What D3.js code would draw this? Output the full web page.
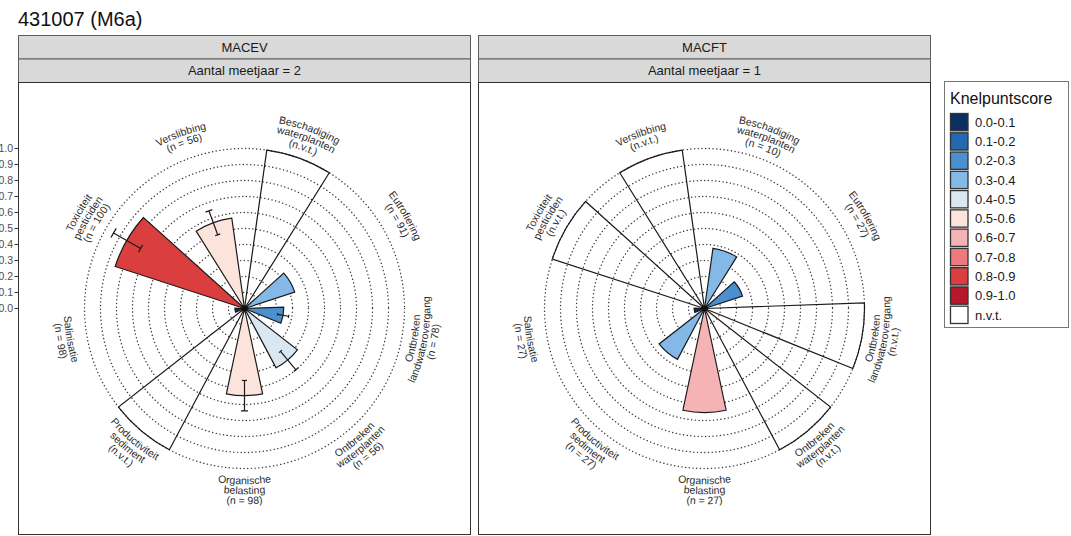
<!DOCTYPE html>
<html>
<head>
<meta charset="utf-8">
<script src="https://cdn.jsdelivr.net/npm/d3@7"></script>
<style>
  body { margin: 0; background: #fff; }
  svg { display: block; font-family: "Liberation Sans", Arial, Helvetica, sans-serif; }
</style>
</head>
<body>
<svg id="chart" width="1071" height="536"></svg>
<script>
// ---- data ----
const categories = [
  "Beschadiging waterplanten", "Eutrofiering", "Ontbreken landwaterovergang",
  "Ontbreken waterplanten", "Organische belasting", "Productiviteit sediment",
  "Salinisatie", "Toxiciteit pesticiden", "Verslibbing"
];
const categoryLines = [
  ["Beschadiging", "waterplanten"], ["Eutrofiering"], ["Ontbreken", "landwaterovergang"],
  ["Ontbreken", "waterplanten"], ["Organische", "belasting"], ["Productiviteit", "sediment"],
  ["Salinisatie"], ["Toxiciteit", "pesticiden"], ["Verslibbing"]
];
const facetNames = ["MACEV", "MACFT"];
const facetYears = [2, 1];

// knelpuntscore per category (null = n.v.t.)
const macevScore = [null, 0.33, 0.245, 0.42, 0.545, null, 0.06, 0.85, 0.57];
const macevLow   = [null, null, 0.21, 0.35, 0.45, null, null, 0.75, 0.49];
const macevHigh  = [null, null, 0.28, 0.50, 0.64, null, null, 0.945, 0.65];
const macevN     = [null, 91, 78, 56, 98, null, 98, 100, 56];

const macftScore = [0.38, 0.25, null, null, 0.65, 0.36, 0.065, null, null];
const macftLow   = [null, null, null, null, null, null, null, null, null];
const macftHigh  = [null, null, null, null, null, null, null, null, null];
const macftN     = [10, 27, null, null, 27, 27, 27, null, null];

const classBreaks = [0.1, 0.2, 0.3, 0.4, 0.5, 0.6, 0.7, 0.8, 0.9];
const classLabels = ["0.0-0.1", "0.1-0.2", "0.2-0.3", "0.3-0.4", "0.4-0.5",
                     "0.5-0.6", "0.6-0.7", "0.7-0.8", "0.8-0.9", "0.9-1.0", "n.v.t."];
const classColors = ["#0b2e63", "#2468b4", "#4a8fd0", "#84b8e6", "#dae6f0",
                     "#fce4dc", "#f5b3b5", "#ec7a7e", "#db3e3e", "#b8162b", "#ffffff"];
const radialTicks = [0, 0.1, 0.2, 0.3, 0.4, 0.5, 0.6, 0.7, 0.8, 0.9, 1.0];
const nvtValue = 1.0;   // n.v.t. bars span the whole scale

const facets = [
  { name: facetNames[0], years: facetYears[0], score: macevScore, low: macevLow, high: macevHigh, n: macevN },
  { name: facetNames[1], years: facetYears[1], score: macftScore, low: macftLow, high: macftHigh, n: macftN }
];

// ---- layout ----
const svg = d3.select("#chart");
const panelSize = 453;
const panelX = [18, 478];
const panelTop = 82;
const stripTop = 35, stripH = 23.5;
const rMax = 160;

const angle = d3.scaleBand().domain(categories).range([0, 2 * Math.PI])
  .paddingInner(0.4).paddingOuter(0.2);
const r = d3.scaleLinear().domain([0, 1]).range([0, rMax]);
const fill = d3.scaleThreshold().domain(classBreaks).range(classColors.slice(0, 10));

const textColor = "#2b2b2b";

// title
svg.append("text").attr("x", 18).attr("y", 26)
  .attr("font-size", 20).attr("fill", "#111").text("431007 (M6a)");

facets.forEach((f, fi) => {
  const x0 = panelX[fi];
  const cx = x0 + panelSize / 2, cy = panelTop + panelSize / 2;

  // strips
  const strips = [f.name, "Aantal meetjaar = " + f.years];
  strips.forEach((s, si) => {
    const y = stripTop + si * stripH;
    svg.append("rect").attr("x", x0 + 0.5).attr("y", y + 0.5)
      .attr("width", panelSize - 1).attr("height", stripH)
      .attr("fill", "#d9d9d9").attr("stroke", "#5e5e5e").attr("stroke-width", 1);
    svg.append("text").attr("x", cx).attr("y", y + stripH / 2 + 0.5)
      .attr("dy", "0.35em").attr("text-anchor", "middle")
      .attr("font-size", 13).attr("fill", "#1a1a1a").text(s);
  });

  const g = svg.append("g").attr("transform", `translate(${cx},${cy})`);

  // dotted reference circles
  g.selectAll("circle.grid").data(radialTicks.filter(t => t > 0)).join("circle")
    .attr("class", "grid").attr("r", d => r(d))
    .attr("fill", "none").attr("stroke", "#3a3a3a").attr("stroke-width", 1.4)
    .attr("stroke-dasharray", "0.1 3.6").attr("stroke-linecap", "round");

  // bars
  const rows = categories.map((c, i) => ({
    cat: c, i, score: f.score[i], low: f.low[i], high: f.high[i], n: f.n[i]
  }));
  const arc = d3.arc().innerRadius(0)
    .outerRadius(d => r(d.score == null ? nvtValue : d.score))
    .startAngle(d => angle(d.cat))
    .endAngle(d => angle(d.cat) + angle.bandwidth());
  g.selectAll("path.bar").data(rows).join("path")
    .attr("class", "bar").attr("d", arc)
    .attr("fill", d => d.score == null ? "none" : fill(d.score))
    .attr("stroke", "#1a1a1a").attr("stroke-width", 1.2).attr("stroke-linejoin", "miter");

  // hub where the bars meet
  g.append("circle").attr("r", 3).attr("fill", "#111");

  // error bars
  const capHalf = 2 * Math.PI / 180;
  const eb = rows.filter(d => d.low != null && d.high != null);
  g.selectAll("path.err").data(eb).join("path")
    .attr("class", "err")
    .attr("d", d => {
      const t = angle(d.cat) + angle.bandwidth() / 2;
      const p = d3.path();
      const a = t - Math.PI / 2;
      [d.low, d.high].forEach(v => {
        const rr = r(v);
        p.moveTo(rr * Math.cos(a - capHalf), rr * Math.sin(a - capHalf));
        p.arc(0, 0, rr, a - capHalf, a + capHalf);
      });
      p.moveTo(r(d.low) * Math.cos(a), r(d.low) * Math.sin(a));
      p.lineTo(r(d.high) * Math.cos(a), r(d.high) * Math.sin(a));
      return p.toString();
    })
    .attr("fill", "none").attr("stroke", "#1a1a1a").attr("stroke-width", 1.2);

  // curved category labels
  const R = 182, ls = 10, fs = 10.5, span = Math.PI / 3;
  rows.forEach(d => {
    const t = angle(d.cat) + angle.bandwidth() / 2;
    const upright = Math.cos(t) > 0;   // upper half reads clockwise
    const lines = categoryLines[d.i].concat(d.n == null ? "(n.v.t.)" : `(n = ${d.n})`);
    const m = lines.length;
    lines.forEach((txt, j) => {
      const rc = upright ? R + ((m - 1) / 2 - j) * ls : R + (j - (m - 1) / 2) * ls;
      const rb = upright ? rc - 0.35 * fs : rc + 0.35 * fs;
      const a0 = upright ? t - span : t + span;
      const a1 = upright ? t + span : t - span;
      const id = `lab-${fi}-${d.i}-${j}`;
      g.append("path").attr("id", id).attr("fill", "none")
        .attr("d", `M${rb * Math.sin(a0)},${-rb * Math.cos(a0)}A${rb},${rb} 0 0 ${upright ? 1 : 0} ${rb * Math.sin(a1)},${-rb * Math.cos(a1)}`);
      g.append("text").attr("font-size", fs).attr("fill", textColor)
        .append("textPath").attr("href", "#" + id)
        .attr("startOffset", "50%").attr("text-anchor", "middle").text(txt);
    });
  });

  // panel border
  svg.append("rect").attr("x", x0 + 0.5).attr("y", panelTop + 0.5)
    .attr("width", panelSize - 1).attr("height", panelSize - 1)
    .attr("fill", "none").attr("stroke", "#333").attr("stroke-width", 1);

  // radial axis (first panel only)
  if (fi === 0) {
    const ax = svg.append("g");
    radialTicks.forEach(t => {
      const y = cy - r(t);
      ax.append("line").attr("x1", x0 - 3.5).attr("x2", x0).attr("y1", y).attr("y2", y)
        .attr("stroke", "#333").attr("stroke-width", 1);
      ax.append("text").attr("x", x0 - 5).attr("y", y).attr("dy", "0.35em")
        .attr("text-anchor", "end").attr("font-size", 10.5).attr("fill", "#4d4d4d")
        .text(d3.format(".1f")(t));
    });
  }
});

// legend
const lg = svg.append("g");
lg.append("rect").attr("x", 944.5).attr("y", 81.5).attr("width", 124).attr("height", 246)
  .attr("fill", "#fff").attr("stroke", "#777").attr("stroke-width", 1);
lg.append("text").attr("x", 950).attr("y", 104).attr("font-size", 16)
  .attr("fill", "#111").text("Knelpuntscore");
const pitch = 19.27, key0 = 113.5;
classLabels.forEach((lab, k) => {
  const y = key0 + k * pitch;
  lg.append("rect").attr("x", 950.5).attr("y", y).attr("width", 17.5).attr("height", 17.3)
    .attr("fill", classColors[k]).attr("stroke", "#333").attr("stroke-width", 1.3);
  lg.append("text").attr("x", 975).attr("y", y + 8.8).attr("dy", "0.35em")
    .attr("font-size", 13).attr("fill", "#1a1a1a").text(lab);
});
</script>
</body>
</html>
